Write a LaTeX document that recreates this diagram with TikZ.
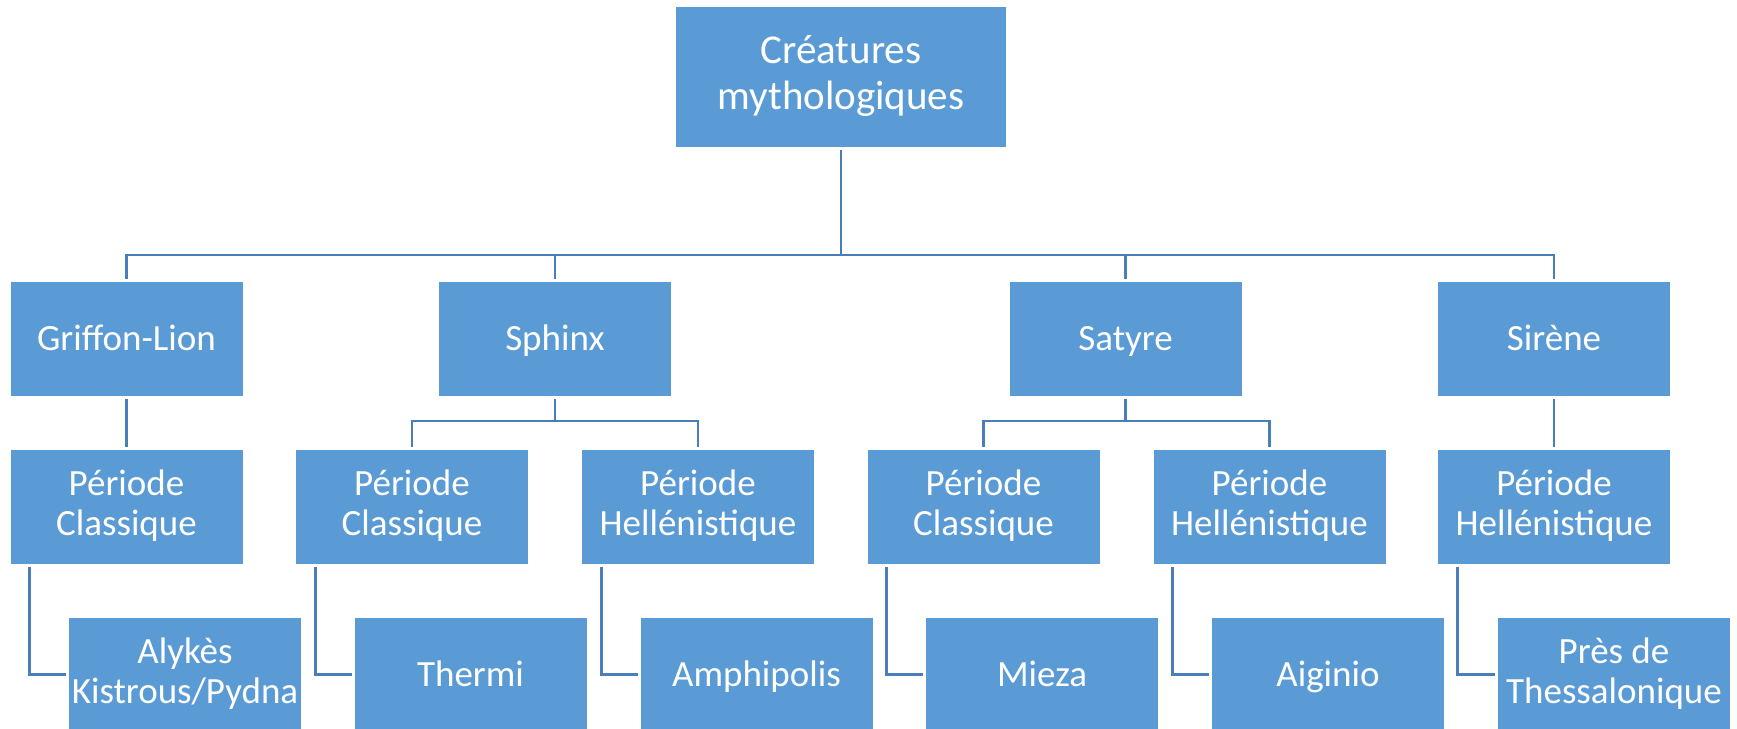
\documentclass[tikz,border=0pt]{standalone}
\usepackage{fontspec}
\setmainfont{Carlito}
\definecolor{boxfill}{HTML}{5B9BD5}
\definecolor{linec}{HTML}{4A7EBB}
\newcommand\boxstrut{\rule[-8.5pt]{0pt}{40pt}}
\begin{document}
\begin{tikzpicture}[x=1pt,y=-1pt,
  box/.style={fill=boxfill,draw=white,line width=0.6pt,text=white,align=center,
    minimum width=232.6pt,minimum height=115pt,inner sep=0pt,outer sep=2.5pt,
    font=\fontsize{37}{40}\selectfont,
    execute at begin node=\boxstrut, execute at end node=\boxstrut},
  rootbox/.style={box,minimum width=331pt,minimum height=141pt,font=\fontsize{41}{46}\selectfont},
  conn/.style={draw=linec,line width=2.6pt}]
\useasboundingbox (0,0) rectangle (1737,728);
% root
\node[rootbox] (root) at (841,77) {Créatures\\mythologiques};
% level 1
\node[box] (griffon) at (126.5,338.5) {Griffon-Lion};
\node[box] (sphinx) at (555,338.5) {Sphinx};
\node[box] (satyre) at (1125.6,338.5) {Satyre};
\node[box] (sirene) at (1554,338.5) {Sirène};
% level 2
\node[box] (gC) at (126.5,506.5) {Période\\Classique};
\node[box] (spC) at (412,506.5) {Période\\Classique};
\node[box] (spH) at (698,506.5) {Période\\Hellénistique};
\node[box] (saC) at (983.5,506.5) {Période\\Classique};
\node[box] (saH) at (1269.5,506.5) {Période\\Hellénistique};
\node[box] (siH) at (1554,506.5) {Période\\Hellénistique};
% leaves
\node[box] (alykes) at (185,674.5) {Alykès\\Kistrous/Pydna};
\node[box] (thermi) at (470.5,674.5) {Thermi};
\node[box] (amphi) at (756.5,674.5) {Amphipolis};
\node[box] (mieza) at (1042,674.5) {Mieza};
\node[box] (aiginio) at (1328,674.5) {Aiginio};
\node[box] (pres) at (1614,674.5) {Près de\\Thessalonique};
% bus coordinates
\coordinate (bus) at (841,255);
\coordinate (spbus) at (555,421);
\coordinate (sabus) at (1125.6,421);
% connectors root
\draw[conn] (root.south) -- (bus);
\foreach \c in {griffon,sphinx,satyre,sirene}
  \draw[conn] (bus) -| (\c.north);
% level1 to level2
\draw[conn] (griffon.south) -- (gC.north);
\draw[conn] (sirene.south) -- (siH.north);
\draw[conn] (sphinx.south) -- (spbus);
\draw[conn] (spbus) -| (spC.north);
\draw[conn] (spbus) -| (spH.north);
\draw[conn] (satyre.south) -- (sabus);
\draw[conn] (sabus) -| (saC.north);
\draw[conn] (sabus) -| (saH.north);
% level2 to leaves
\draw[conn] ([xshift=22pt]gC.south west) |- (alykes.west);
\draw[conn] ([xshift=22pt]spC.south west) |- (thermi.west);
\draw[conn] ([xshift=22pt]spH.south west) |- (amphi.west);
\draw[conn] ([xshift=22pt]saC.south west) |- (mieza.west);
\draw[conn] ([xshift=22pt]saH.south west) |- (aiginio.west);
\draw[conn] ([xshift=22pt]siH.south west) |- (pres.west);
\end{tikzpicture}
\end{document}
